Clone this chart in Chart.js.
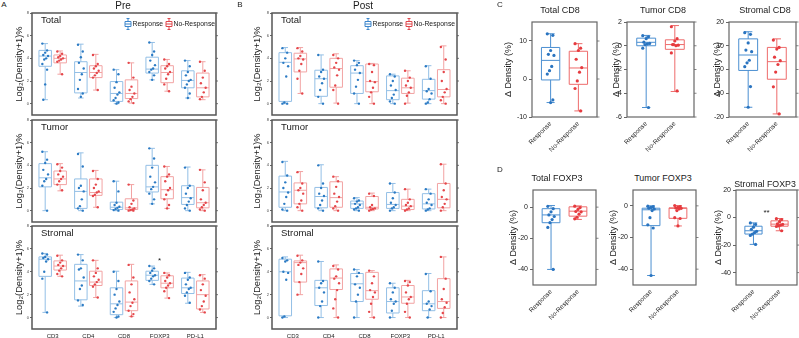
<!DOCTYPE html>
<html>
<head>
<meta charset="utf-8">
<title>Density box plots</title>
<script src="https://cdn.jsdelivr.net/npm/chart.js@4.4.1/dist/chart.umd.min.js"></script>
<style>
  body { margin: 0; background: #fff; }
  #fig { position: relative; width: 799px; height: 338px; overflow: hidden; font-family: "Liberation Sans", Arial, sans-serif; color: #1a1a1a; }
  .pane { position: absolute; }
  .txt { position: absolute; white-space: nowrap; transform: translate(-50%, -50%); line-height: 1; }
</style>
</head>
<body>
<div id="fig"></div>
<script>
const FONT = '"Liberation Sans", Arial, sans-serif';
const markers = ["CD3", "CD4", "CD8", "FOXP3", "PD-L1"];
const groups = ["Response", "No-Response"];

// box stats per marker: [min, q1, median, q3, max]  (Log2(Density+1)%)
// Pre - Total
const preTotalR = [[0.35, 3.3, 4.2, 4.7, 5.3], [0.5, 0.95, 2.75, 3.7, 5.25], [0, 0.2, 0.9, 1.95, 3.0], [2.1, 2.7, 3.05, 4.1, 5.4], [0.5, 1.4, 2.05, 2.9, 3.8]];
const preTotalN = [[2.6, 3.6, 4.0, 4.3, 4.65], [1.2, 2.3, 2.75, 3.35, 4.35], [0.05, 0.45, 0.9, 2.1, 3.6], [1.1, 1.85, 2.75, 3.35, 3.9], [0.35, 0.6, 1.4, 2.7, 3.7]];
const preTotalRPts = [[5.3, 4.7, 4.5, 4.3, 4.2, 4.0, 3.9, 3.5, 3.0, 1.7, 0.35], [5.2, 4.6, 4.1, 3.6, 3.1, 2.6, 2.1, 1.3, 0.9, 0.6], [3.0, 2.6, 1.9, 1.4, 1.0, 0.8, 0.5, 0.3, 0.1, 0], [5.4, 4.6, 4.3, 3.8, 3.4, 3.1, 3.0, 2.8, 2.5, 2.1], [3.8, 3.3, 2.8, 2.5, 2.1, 2.0, 1.7, 1.4, 0.9, 0.5]];
const preTotalNPts = [[4.6, 4.4, 4.2, 4.1, 4.0, 3.9, 3.8, 3.7, 2.6], [4.3, 3.5, 3.3, 3.1, 2.9, 2.7, 2.5, 2.3, 1.2], [3.6, 2.3, 1.5, 1.2, 0.9, 0.6, 0.4, 0.2, 0.05], [3.9, 3.5, 3.3, 3.1, 2.8, 2.6, 2.2, 1.7, 1.1], [3.7, 2.9, 2.3, 1.8, 1.4, 1.0, 0.6, 0.4]];

// Pre - Tumor
const preTumorR = [[0, 2.1, 2.9, 4.15, 5.2], [0, 0.2, 1.7, 2.8, 5.1], [0, 0.1, 0.3, 0.75, 2.6], [0.6, 1.65, 2.1, 4.0, 5.5], [0, 0.55, 1.15, 2.2, 3.85]];
const preTumorN = [[1.75, 2.3, 2.8, 3.5, 4.15], [0.3, 1.35, 1.6, 2.8, 3.55], [0, 0.1, 0.25, 1.05, 2.3], [0.2, 1.05, 1.85, 3.0, 3.9], [0, 0.25, 0.7, 2.05, 3.6]];
const preTumorRPts = [[5.2, 4.5, 4.2, 3.6, 3.2, 2.8, 2.6, 2.2, 0], [5.0, 3.9, 2.2, 2.0, 1.7, 1.0, 0.4, 0.2, 0], [2.6, 1.7, 0.7, 0.5, 0.35, 0.25, 0.15, 0.05, 0], [5.5, 4.6, 3.8, 3.0, 2.5, 2.1, 1.9, 1.5, 1.0, 0.6], [3.8, 2.2, 2.0, 1.5, 1.1, 0.8, 0.5, 0.2, 0]];
const preTumorNPts = [[4.1, 3.8, 3.5, 3.2, 3.0, 2.8, 2.6, 2.3, 1.8], [3.5, 2.8, 2.3, 2.0, 1.7, 1.6, 1.4, 1.3, 0.3], [2.3, 0.9, 0.6, 0.3, 0.2, 0.1, 0.05, 0, 0], [3.9, 3.2, 3.0, 2.6, 2.0, 1.8, 1.4, 1.0, 0.5, 0.2], [3.6, 2.5, 1.8, 1.0, 0.7, 0.5, 0.3, 0.1, 0]];

// Pre - Stromal
const preStromalR = [[0.45, 3.6, 5.1, 5.3, 5.6], [1.0, 1.55, 3.2, 4.65, 5.5], [0, 0.25, 1.2, 2.6, 4.05], [2.9, 3.25, 3.7, 4.05, 4.5], [1.25, 2.1, 2.6, 3.45, 3.95]];
const preStromalN = [[3.6, 4.15, 4.5, 4.95, 5.45], [1.75, 2.8, 3.1, 4.05, 5.0], [0.1, 0.6, 1.35, 3.2, 4.65], [1.7, 2.6, 3.0, 3.65, 3.9], [0.45, 0.75, 2.0, 3.2, 3.75]];
const preStromalRPts = [[5.6, 5.5, 5.3, 5.2, 5.1, 4.9, 4.0, 3.4, 0.45], [5.5, 5.0, 4.3, 4.2, 3.5, 2.8, 2.5, 1.5, 1.1], [4.0, 3.2, 2.5, 2.0, 1.4, 1.1, 0.8, 0.5, 0.1, 0], [4.5, 4.3, 4.1, 3.9, 3.7, 3.6, 3.4, 3.2, 2.9], [3.9, 3.5, 3.3, 2.9, 2.6, 2.5, 2.2, 1.9, 1.3]];
const preStromalNPts = [[5.4, 5.0, 4.8, 4.6, 4.5, 4.3, 4.1, 3.8, 3.6], [5.0, 4.3, 3.9, 3.6, 3.3, 3.1, 2.9, 2.7, 1.75], [4.6, 3.5, 2.9, 2.2, 1.6, 1.3, 1.0, 0.6, 0.3, 0.1], [3.9, 3.7, 3.5, 3.2, 3.0, 2.8, 2.6, 2.3, 1.7], [3.7, 3.4, 2.9, 2.4, 1.9, 1.4, 1.0, 0.7, 0.45]];

// Post - Total
const postTotalR = [[0, 0.2, 3.65, 4.5, 4.95], [0, 0.65, 2.2, 2.95, 4.3], [0, 0.9, 2.7, 3.35, 3.8], [0, 0.35, 1.15, 2.45, 2.6], [0, 0.4, 1.15, 2.15, 3.35]];
const postTotalN = [[0.9, 2.8, 3.95, 4.45, 4.95], [0.05, 1.45, 3.1, 4.0, 4.4], [0, 1.05, 1.95, 3.5, 3.55], [0.05, 0.9, 1.4, 2.25, 2.9], [0, 0.6, 1.25, 3.0, 5.1]];
const postTotalRPts = [[4.9, 4.5, 4.0, 3.6, 3.3, 2.4, 0.1, 0, 0], [4.3, 3.0, 2.8, 2.4, 2.2, 1.8, 1.2, 0.6, 0], [3.8, 3.6, 3.4, 3.0, 2.7, 2.1, 1.5, 0.9, 0], [2.6, 2.4, 2.0, 1.6, 1.2, 0.8, 0.5, 0.2, 0], [3.3, 2.2, 1.3, 1.1, 0.9, 0.4, 0.1, 0]];
const postTotalNPts = [[4.9, 4.6, 4.2, 4.0, 3.9, 3.5, 2.9, 2.2, 0.9], [4.3, 4.0, 3.6, 3.2, 3.0, 2.5, 1.6, 1.2, 0], [3.5, 3.4, 2.8, 2.0, 1.9, 1.4, 1.0, 0.6, 0], [2.9, 2.3, 2.0, 1.6, 1.4, 1.0, 0.7, 0], [5.0, 3.9, 2.8, 2.0, 1.3, 1.0, 0.6, 0.3, 0]];

// Post - Tumor
const postTumorR = [[0, 0.3, 1.65, 3.05, 4.35], [0, 0.25, 1.25, 2.05, 4.05], [0, 0.2, 0.6, 0.85, 1.15], [0, 0.2, 0.55, 1.6, 2.4], [0, 0.15, 0.6, 1.5, 1.9]];
const postTumorN = [[0, 0.6, 1.8, 2.45, 3.45], [0, 0.3, 1.15, 2.55, 3.0], [0, 0.15, 0.3, 1.25, 1.55], [0, 0.1, 0.4, 1.0, 1.9], [0, 0.25, 1.0, 2.4, 4.1]];
const postTumorRPts = [[4.3, 3.1, 2.5, 2.0, 1.6, 1.2, 0.6, 0.1, 0], [4.0, 2.4, 2.0, 1.5, 1.3, 0.9, 0.5, 0.2, 0], [1.1, 0.9, 0.8, 0.6, 0.5, 0.3, 0.2, 0.1, 0], [2.4, 1.6, 1.1, 0.7, 0.5, 0.3, 0.2, 0], [1.9, 1.5, 1.0, 0.7, 0.5, 0.2, 0.1, 0]];
const postTumorNPts = [[3.4, 2.4, 2.0, 1.8, 1.5, 0.9, 0.6, 0.3, 0], [3.0, 2.6, 2.1, 1.5, 1.2, 0.8, 0.4, 0.2, 0], [1.5, 1.3, 0.5, 0.3, 0.2, 0.15, 0.1, 0], [1.9, 1.0, 0.7, 0.5, 0.4, 0.2, 0.1, 0], [4.1, 2.4, 1.8, 1.2, 1.0, 0.6, 0.3, 0]];

// Post - Stromal
const postStromalR = [[0, 0.15, 4.0, 5.1, 5.3], [0, 1.05, 2.6, 3.25, 4.9], [0, 1.4, 2.95, 3.85, 4.2], [0, 0.4, 1.4, 2.6, 3.0], [0, 0.6, 1.2, 2.35, 3.85]];
const postStromalN = [[2.0, 3.1, 4.8, 4.95, 5.45], [0, 2.45, 3.45, 4.25, 4.6], [0, 1.6, 2.35, 3.95, 4.1], [0, 1.25, 1.8, 2.8, 3.25], [0, 0.8, 1.4, 3.4, 5.3]];
const postStromalRPts = [[5.2, 5.0, 4.9, 4.0, 3.9, 3.3, 0.1, 0], [4.9, 3.2, 3.0, 2.6, 2.2, 1.4, 1.0, 0], [4.2, 3.9, 3.6, 2.9, 2.6, 2.0, 1.4, 0], [3.0, 2.6, 2.2, 1.6, 1.4, 1.2, 0.6, 0], [3.8, 2.3, 1.4, 1.2, 1.0, 0.7, 0]];
const postStromalNPts = [[5.4, 5.0, 4.8, 4.6, 4.3, 3.8, 3.1, 2.0], [4.5, 4.2, 3.6, 3.4, 3.0, 2.4, 1.6, 0.8, 0], [4.1, 3.6, 3.0, 2.4, 2.2, 1.8, 1.2, 0.5, 0], [3.2, 3.1, 2.8, 2.2, 1.8, 1.6, 1.2, 0.5, 0], [5.3, 3.4, 2.5, 1.6, 1.3, 0.9, 0.4, 0]];

// Delta density (%) panels: [min, q1, median, q3, max] for Response / No-Response
const totalCD8R = [-6.2, -0.25, 4.9, 8.3, 11.9];
const totalCD8N = [-8.4, -1.4, 2.9, 7.3, 9.3];
const totalCD8RPts = [11.9, 11.5, 7.5, 6.5, 6.2, 3.3, 2.2, 1.3, -5.5, -6.2];
const totalCD8NPts = [9.3, 8.1, 7.5, 5.2, 3.0, 1.8, -0.5, -2.5, -8.4];
const tumorCD8R = [-5.2, 0, 0.29, 0.64, 0.87];
const tumorCD8N = [-3.85, -0.3, 0.1, 0.5, 1.7];
const tumorCD8RPts = [0.85, 0.75, 0.6, 0.3, 0.2, 0.15, 0.1, -0.2, -5.2];
const tumorCD8NPts = [1.6, 0.6, 0.4, 0.1, 0.05, 0, 0.1, -0.6, -3.8];
const stromalCD8R = [-15.9, -0.4, 6.1, 12.9, 15.9];
const stromalCD8N = [-18.7, -4.1, 3.3, 9.3, 12.9];
const stromalCD8RPts = [15.5, 14.8, 11.2, 8.2, 7.5, 3.9, 2.8, 1.2, -7.2, -15.9];
const stromalCD8NPts = [12.4, 9.3, 8.6, 5.2, 3.7, 2.1, -1.1, -7.3, -18.7];
const totalFOXP3R = [-40, -10, -5, -1, 1];
const totalFOXP3N = [-7.9, -5.8, -2.6, 0.2, 0.8];
const totalFOXP3RPts = [0.5, -1, -3, -5, -6, -8, -10, -13, -40];
const totalFOXP3NPts = [0.6, -0.3, -1.5, -2.8, -3.0, -4.5, -6.5, -7.5];
const tumorFOXP3R = [-44, -12.5, -2.5, -1.5, 0];
const tumorFOXP3N = [-12.7, -7.9, -1.6, -1.25, 0.2];
const tumorFOXP3RPts = [-0.2, -0.5, -1, -1.5, -2, -3, -7.5, -12, -14, -44];
const tumorFOXP3NPts = [0.2, -0.5, -1.0, -1.3, -1.6, -2, -3, -7.5, -8, -12.7];
const stromalFOXP3R = [-19.5, -12, -9.6, -6.3, -3.9];
const stromalFOXP3N = [-9.6, -6.3, -4.8, -2.4, -0.7];
const stromalFOXP3RPts = [-3.9, -5, -7, -8.5, -10, -11, -12, -13, -19.5];
const stromalFOXP3NPts = [-0.8, -1.5, -3, -4.5, -5, -5.5, -6, -6.5, -9.6];

const fig = document.getElementById("fig");

function addText(text, x, y, size) {
    const el = document.createElement("div");
    el.className = "txt";
    el.style.left = x + "px";
    el.style.top = y + "px";
    el.style.fontSize = size + "px";
    el.textContent = text;
    fig.appendChild(el);
}

function addCanvas(left, top, width, height) {
    const d = document.createElement("div");
    d.className = "pane";
    d.style.left = left + "px";
    d.style.top = top + "px";
    d.style.width = width + "px";
    d.style.height = height + "px";
    const c = document.createElement("canvas");
    d.appendChild(c);
    fig.appendChild(d);
    return c;
}

// fixed horizontal spread of the dots inside a box
const jit = (k, amp) => ((((k * 5) % 7) - 3) / 3) * amp;

function dots(pts, xAt, amp, color, r) {
    const data = [];
    pts.forEach((vals, i) =>
        vals.forEach((v, k) => data.push({ x: xAt(i) + jit(k, amp), y: v }))
    );
    return {
        data,
        pointRadius: r,
        pointHoverRadius: r,
        pointBackgroundColor: color,
        pointBorderWidth: 0,
        showLine: false,
    };
}

// boxes, frame, right ticks, panel label, legend and marks
function decor(cfg) {
    return {
        id: "decor",
        beforeDatasetsDraw(chart) {
            const { ctx } = chart;
            const x = chart.scales.x, y = chart.scales.y;
            const py = (v) => y.getPixelForValue(v);
            ctx.save();
            ctx.lineWidth = cfg.lw;
            cfg.boxes.forEach((b) => {
                const [mn, q1, md, q3, mx] = b.s;
                const xl = x.getPixelForValue(b.x - cfg.hw);
                const xr = x.getPixelForValue(b.x + cfg.hw);
                const xc = x.getPixelForValue(b.x);
                const cw = (xr - xl) * 0.22;
                ctx.strokeStyle = b.color;
                ctx.beginPath();
                ctx.rect(xl, py(q3), xr - xl, py(q1) - py(q3));
                ctx.moveTo(xl, py(md)); ctx.lineTo(xr, py(md));
                ctx.moveTo(xc, py(q3)); ctx.lineTo(xc, py(mx));
                ctx.moveTo(xc, py(q1)); ctx.lineTo(xc, py(mn));
                ctx.moveTo(xc - cw, py(mx)); ctx.lineTo(xc + cw, py(mx));
                ctx.moveTo(xc - cw, py(mn)); ctx.lineTo(xc + cw, py(mn));
                ctx.stroke();
            });
            ctx.restore();
        },
        afterDraw(chart) {
            const { ctx, chartArea: a } = chart;
            const x = chart.scales.x, y = chart.scales.y;
            ctx.save();
            ctx.strokeStyle = cfg.frame;
            ctx.lineWidth = cfg.frameW;
            ctx.strokeRect(a.left, a.top, a.right - a.left, a.bottom - a.top);
            ctx.lineWidth = 0.8;
            ctx.beginPath();
            y.ticks.forEach((t) => {
                const p = y.getPixelForValue(t.value);
                ctx.moveTo(a.right, p);
                ctx.lineTo(a.right + cfg.rtick, p);
            });
            ctx.stroke();
            ctx.fillStyle = "#1a1a1a";
            ctx.textBaseline = "middle";
            if (cfg.label) {
                ctx.font = `9.5px ${FONT}`;
                ctx.textAlign = "left";
                ctx.fillText(cfg.label, a.left + 9, a.top + 7.5);
            }
            if (cfg.legend) {
                const ly = a.top + 11;
                [[96, groups[0], "#3d86cc"], [137, groups[1], "#e0474c"]].forEach(([dx, txt, col]) => {
                    const cx = a.left + dx;
                    ctx.strokeStyle = col;
                    ctx.lineWidth = 1;
                    ctx.beginPath();
                    ctx.rect(cx - 3, ly - 2.5, 6, 5);
                    ctx.moveTo(cx - 3, ly); ctx.lineTo(cx + 3, ly);
                    ctx.moveTo(cx, ly - 2.5); ctx.lineTo(cx, ly - 5.5);
                    ctx.moveTo(cx, ly + 2.5); ctx.lineTo(cx, ly + 5.5);
                    ctx.moveTo(cx - 1.5, ly - 5.5); ctx.lineTo(cx + 1.5, ly - 5.5);
                    ctx.moveTo(cx - 1.5, ly + 5.5); ctx.lineTo(cx + 1.5, ly + 5.5);
                    ctx.stroke();
                    ctx.fillStyle = "#1a1a1a";
                    ctx.font = `6.8px ${FONT}`;
                    ctx.textAlign = "left";
                    ctx.fillText(txt, cx + 4.5, ly);
                });
            }
            (cfg.marks || []).forEach((m) => {
                ctx.fillStyle = "#1a1a1a";
                ctx.font = `8px ${FONT}`;
                ctx.textAlign = "center";
                ctx.fillText(m.t, x.getPixelForValue(m.x), y.getPixelForValue(m.y));
            });
            ctx.restore();
        },
    };
}

function makeChart(p) {
    const left = Math.round(p.titleX - p.titleSize * 0.6);
    const top = p.t - 5;
    const pr = 5;
    const cv = addCanvas(left, top, p.r - left + pr, p.b - top + p.xh);
    const yw = p.l - left;
    new Chart(cv, {
        type: "scatter",
        data: { datasets: p.datasets },
        options: {
            responsive: true,
            maintainAspectRatio: false,
            animation: false,
            events: [],
            layout: { padding: { top: 5, right: pr, bottom: 0, left: 0 } },
            plugins: { legend: { display: false }, tooltip: { enabled: false } },
            scales: {
                x: Object.assign(p.xScale, {
                    afterFit: (s) => { s.height = p.xh; s.paddingLeft = 0; s.paddingRight = 0; },
                }),
                y: Object.assign(p.yScale, {
                    afterFit: (s) => { s.width = yw; s.paddingTop = 0; s.paddingBottom = 0; },
                }),
            },
        },
        plugins: [decor(p.decor)],
    });
}

// ---------- panels A and B ----------
const BOX_B = "#93bfe6", BOX_R = "#f2a3a3", PT_B = "#2c7bc4", PT_R = "#e5474b";
const abRows = [{ t: 13, b: 115 }, { t: 120, b: 222 }, { t: 226, b: 329 }];

function abPanel(side, row, label, sR, sN, pR, pN, marks) {
    const geo = side === "A" ? { titleX: 20, l: 32, r: 216 } : { titleX: 258, l: 272, r: 457 };
    const last = row === 2;
    const boxes = [];
    sR.forEach((s, i) => boxes.push({ x: i - 0.21, s, color: BOX_B }));
    sN.forEach((s, i) => boxes.push({ x: i + 0.21, s, color: BOX_R }));
    makeChart({
        titleX: geo.titleX, titleSize: 9.3, l: geo.l, r: geo.r,
        t: abRows[row].t, b: abRows[row].b, xh: last ? 14 : 3,
        datasets: [
            dots(pR, (i) => i - 0.21, 0.08, PT_B, 1.2),
            dots(pN, (i) => i + 0.21, 0.08, PT_R, 1.2),
        ],
        xScale: {
            type: "linear", min: -0.58, max: 4.58,
            afterBuildTicks: (s) => { s.ticks = markers.map((m, i) => ({ value: i })); },
            ticks: { display: last, callback: (v) => markers[v], font: { size: 6, family: FONT }, color: "#222", padding: 4, maxRotation: 0, autoSkip: false },
            grid: { display: false, drawTicks: false },
            border: { display: false },
        },
        yScale: {
            min: -1, max: 8,
            afterBuildTicks: (s) => { s.ticks = [0, 2, 4, 6, 8].map((value) => ({ value })); },
            ticks: { font: { size: 4, family: FONT }, color: "#444", padding: 1 },
            grid: { drawOnChartArea: false, tickLength: 2, color: "#666" },
            border: { display: false },
            title: { display: true, text: "Log₂(Density+1)%", font: { size: 9.3, family: FONT }, color: "#1a1a1a", padding: 0 },
        },
        decor: { boxes, hw: 0.175, lw: 1, frame: "#555", frameW: 1.5, rtick: 2, label, legend: row === 0, marks },
    });
}

abPanel("A", 0, "Total", preTotalR, preTotalN, preTotalRPts, preTotalNPts);
abPanel("A", 1, "Tumor", preTumorR, preTumorN, preTumorRPts, preTumorNPts);
abPanel("A", 2, "Stromal", preStromalR, preStromalN, preStromalRPts, preStromalNPts, [{ t: "*", x: 3, y: 5.0 }]);
abPanel("B", 0, "Total", postTotalR, postTotalN, postTotalRPts, postTotalNPts);
abPanel("B", 1, "Tumor", postTumorR, postTumorN, postTumorRPts, postTumorNPts);
abPanel("B", 2, "Stromal", postStromalR, postStromalN, postStromalRPts, postStromalNPts);

// ---------- panels C and D ----------
const BOX2_B = "#4b8fd1", BOX2_R = "#ee6b6b", PT2_B = "#2a74c0", PT2_R = "#e63b3f";

function deltaPanel(geo, sR, sN, pR, pN, yMin, yMax, yTicks, marks) {
    makeChart({
        titleX: geo.titleX, titleSize: 9, l: geo.l, r: geo.r, t: geo.t, b: geo.b, xh: 45,
        datasets: [
            dots([pR], () => 1, 0.12, PT2_B, 1.6),
            dots([pN], () => 2, 0.12, PT2_R, 1.6),
        ],
        xScale: {
            type: "linear", min: 0.33, max: 2.67,
            afterBuildTicks: (s) => { s.ticks = [{ value: 1 }, { value: 2 }]; },
            ticks: { callback: (v) => groups[v - 1], font: { size: 6.5, family: FONT }, color: "#222", padding: 3, minRotation: 45, maxRotation: 45, autoSkip: false },
            grid: { display: false, drawTicks: false },
            border: { display: false },
        },
        yScale: {
            min: yMin, max: yMax,
            afterBuildTicks: (s) => { s.ticks = yTicks.map((value) => ({ value })); },
            ticks: { font: { size: 7, family: FONT }, color: "#222", padding: 2 },
            grid: { drawOnChartArea: false, tickLength: 3, color: "#666" },
            border: { display: false },
            title: { display: true, text: "Δ Density (%)", font: { size: 9, family: FONT }, color: "#1a1a1a", padding: 0 },
        },
        decor: {
            boxes: [{ x: 1, s: sR, color: BOX2_B }, { x: 2, s: sN, color: BOX2_R }],
            hw: 0.33, lw: 1, frame: "#666", frameW: 1.2, rtick: 2.5, marks,
        },
    });
}

deltaPanel({ titleX: 508, l: 532, r: 597, t: 22, b: 117 }, totalCD8R, totalCD8N, totalCD8RPts, totalCD8NPts, -10, 15, [-10, 0, 10]);
deltaPanel({ titleX: 616, l: 627, r: 694, t: 22, b: 117 }, tumorCD8R, tumorCD8N, tumorCD8RPts, tumorCD8NPts, -6, 2, [-6, -4, -2, 0, 2]);
deltaPanel({ titleX: 717, l: 729, r: 796, t: 22, b: 117 }, stromalCD8R, stromalCD8N, stromalCD8RPts, stromalCD8NPts, -20, 20, [-20, -10, 0, 10, 20]);
deltaPanel({ titleX: 513, l: 533, r: 596, t: 190, b: 285 }, totalFOXP3R, totalFOXP3N, totalFOXP3RPts, totalFOXP3NPts, -50, 11, [-40, -20, 0]);
deltaPanel({ titleX: 613, l: 633, r: 696, t: 190, b: 285 }, tumorFOXP3R, tumorFOXP3N, tumorFOXP3RPts, tumorFOXP3NPts, -50, 10, [-40, -20, 0]);
deltaPanel({ titleX: 718, l: 736, r: 797, t: 190, b: 285 }, stromalFOXP3R, stromalFOXP3N, stromalFOXP3RPts, stromalFOXP3NPts, -49, 20, [-40, -20, 0, 20], [{ t: "**", x: 1.5, y: 3.5 }]);

// ---------- headings ----------
addText("A", 4, 5, 8);
addText("Pre", 123, 6, 10);
addText("B", 240, 5, 8);
addText("Post", 363, 6, 10);
addText("C", 500, 5, 8);
addText("D", 500, 170, 8);
addText("Total CD8", 560, 10, 9);
addText("Tumor CD8", 663, 10, 9);
addText("Stromal CD8", 765, 10, 9);
addText("Total FOXP3", 557, 178, 9);
addText("Tumor FOXP3", 663, 178, 9);
addText("Stromal FOXP3", 765, 184, 8.8);
</script>
</body>
</html>
